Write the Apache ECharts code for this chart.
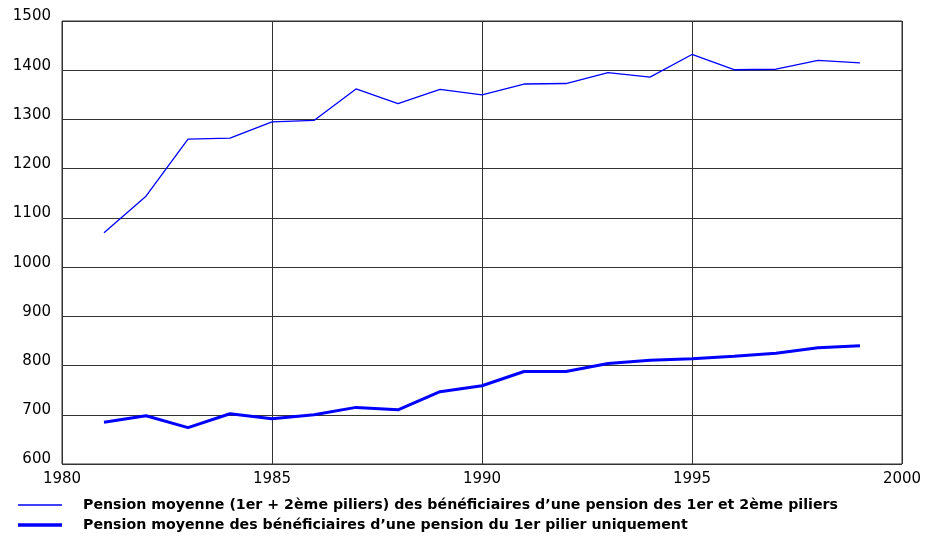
<!DOCTYPE html>
<html>
<head>
<meta charset="utf-8">
<script src="https://cdn.jsdelivr.net/npm/echarts@6/dist/echarts.min.js"></script>
<style>
    html, body { margin: 0; padding: 0; background: #fff; }
    #chart { width: 928px; height: 536px; }
</style>
</head>
<body>
<div id="chart"></div>
<script>
    // années et séries
    const years = [1981, 1982, 1983, 1984, 1985, 1986, 1987, 1988, 1989, 1990,
        1991, 1992, 1993, 1994, 1995, 1996, 1997, 1998, 1999];
    const pensionDeuxPiliers = [1070, 1144, 1260, 1262, 1295, 1298, 1362, 1332, 1361, 1350,
        1372, 1373, 1395, 1386, 1432, 1401, 1402, 1420, 1415];
    const pensionPremierPilier = [685, 698, 674, 702, 692, 700, 715, 710, 747, 759,
        788, 788, 804, 811, 814, 819, 825, 836, 840];
    const seriesNames = [
        'Pension moyenne (1er + 2ème piliers) des bénéficiaires d\u2019une pension des 1er et 2ème piliers',
        'Pension moyenne des bénéficiaires d\u2019une pension du 1er pilier uniquement'
    ];

    const pairs = (ys) => years.map((y, i) => [y, ys[i]]);
    const gridColor = '#333';
    const blue = '#0000ff';
    const font = '"DejaVu Sans", sans-serif';

    // une légende par série, pour garder l'épaisseur du trait
    const legendItem = (name, top, thickness) => ({
        orient: 'vertical',
        left: 18,
        top: top,
        icon: 'rect',
        itemWidth: 44,
        itemHeight: thickness,
        itemStyle: { color: blue },
        padding: 0,
        textStyle: {
            fontSize: 14.2,
            fontWeight: 'bold',
            color: '#000',
            lineHeight: 14,
            padding: [0, 0, 0, 16]
        },
        data: [name]
    });

    const chart = echarts.init(document.getElementById('chart'));
    chart.setOption({
        animation: false,
        textStyle: { fontFamily: font },
        grid: {
            left: 62,
            right: 26,
            top: 21,
            bottom: 72,
            show: true,
            borderColor: gridColor,
            borderWidth: 1
        },
        legend: [
            legendItem(seriesNames[0], 498, 1.5),
            legendItem(seriesNames[1], 518, 3.5)
        ],
        xAxis: {
            type: 'value',
            min: 1980,
            max: 2000,
            interval: 5,
            axisLine: { show: false },
            axisTick: { show: false },
            axisLabel: { color: '#000', fontSize: 15, margin: 8, formatter: (v) => String(v) },
            splitLine: { show: true, lineStyle: { color: gridColor, width: 1 } }
        },
        yAxis: {
            type: 'value',
            min: 600,
            max: 1500,
            interval: 100,
            axisLine: { show: false },
            axisTick: { show: false },
            axisLabel: {
                color: '#000',
                fontSize: 15,
                margin: 11,
                verticalAlign: 'bottom',
                lineHeight: 9,
                formatter: (v) => String(v)
            },
            splitLine: { show: true, lineStyle: { color: gridColor, width: 1 } }
        },
        series: [
            {
                name: seriesNames[0],
                type: 'line',
                symbol: 'none',
                data: pairs(pensionDeuxPiliers),
                lineStyle: { color: blue, width: 1.3 },
                itemStyle: { color: blue }
            },
            {
                name: seriesNames[1],
                type: 'line',
                symbol: 'none',
                data: pairs(pensionPremierPilier),
                lineStyle: { color: blue, width: 3 },
                itemStyle: { color: blue }
            }
        ]
    });
</script>
</body>
</html>
